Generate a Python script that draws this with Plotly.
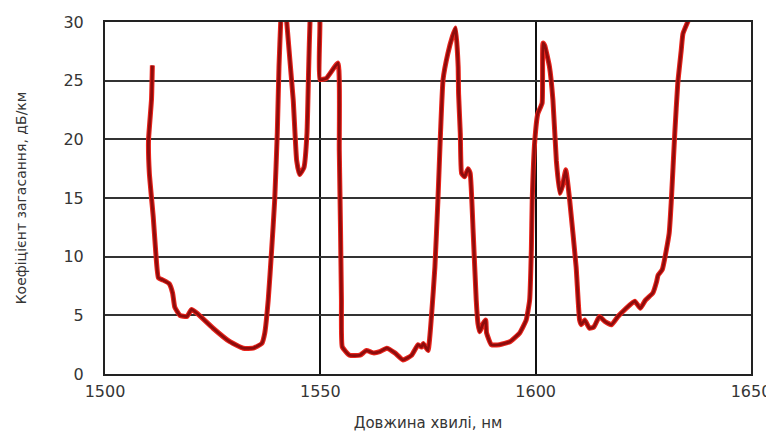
import plotly.graph_objects as go

wavelength_nm = [
    1511.0, 1510.8, 1510.1, 1510.3, 1511.2, 1511.8, 1512.4, 1513.5, 1514.9, 1515.7,
    1516.2, 1517.4, 1519.0, 1520.1, 1521.3, 1525.1, 1529.0, 1532.1, 1534.4, 1536.4,
    1537.1, 1537.9, 1538.7, 1539.4, 1540.0, 1540.4, 1540.8, 1541.5, 1542.2, 1543.7,
    1544.5, 1545.2, 1546.2, 1546.9, 1547.3, 1547.6, 1548.7, 1549.9, 1549.9, 1551.4,
    1554.1, 1554.4, 1554.7, 1554.9, 1555.1, 1556.8, 1559.2, 1560.7, 1562.3, 1563.8,
    1565.4, 1567.3, 1569.2, 1571.2, 1572.7, 1573.5, 1573.9, 1575.0, 1575.8, 1576.6,
    1577.3, 1577.9, 1578.5, 1579.6, 1580.7, 1581.4, 1582.0, 1582.1, 1582.5, 1582.8,
    1583.5, 1584.3, 1584.8, 1585.5, 1586.2, 1586.6, 1587.0, 1587.8, 1588.4, 1588.6,
    1589.7, 1591.6, 1594.0, 1596.3, 1597.8, 1598.6, 1599.0, 1599.2, 1599.8, 1600.5,
    1601.5, 1601.7, 1602.1, 1603.2, 1604.0, 1604.8, 1605.6, 1606.2, 1607.0, 1607.9,
    1609.4, 1610.2, 1610.6, 1611.4, 1612.5, 1613.5, 1614.8, 1616.0, 1617.6, 1619.1,
    1621.0, 1623.0, 1624.3, 1625.5, 1627.2, 1628.1, 1628.4, 1629.4, 1631.0, 1631.5,
    1632.3, 1633.0, 1633.8, 1634.2, 1635.3, 1636.5, 1637.5,
]
attenuation_db_km = [
    26.3, 23.4, 19.9, 17.1, 13.4, 10.3, 8.2, 8.0, 7.7, 6.9,
    5.7, 5.0, 4.9, 5.5, 5.2, 3.9, 2.75, 2.2, 2.2, 2.6,
    3.5, 6.3, 10.6, 14.8, 20.5, 26.2, 30.0, 36.0, 30.0, 23.4,
    18.2, 17.0, 17.6, 20.5, 26.2, 30.0, 36.0, 30.0, 25.1, 25.2,
    26.5, 19.1, 12.0, 6.3, 2.3, 1.6, 1.6, 2.0, 1.8, 1.9,
    2.2, 1.8, 1.2, 1.6, 2.5, 2.3, 2.6, 2.0, 4.9, 9.1,
    14.8, 20.5, 25.1, 27.3, 28.8, 29.5, 26.2, 23.9, 20.5, 17.1,
    16.8, 17.5, 17.1, 12.0, 6.3, 4.3, 3.6, 4.3, 4.6, 3.5,
    2.5, 2.5, 2.75, 3.5, 4.6, 6.3, 10.6, 14.8, 19.9, 22.2,
    23.1, 28.2, 28.0, 26.2, 23.4, 18.2, 15.4, 16.0, 17.4, 14.8,
    9.1, 4.6, 4.2, 4.6, 3.9, 4.0, 4.9, 4.5, 4.2, 4.9,
    5.6, 6.2, 5.6, 6.3, 6.9, 7.9, 8.4, 8.9, 12.0, 14.8,
    20.5, 24.8, 27.6, 29.0, 30.0, 31.0, 32.0,
]
x_ticks = [1500, 1550, 1600, 1650]
y_ticks = [0, 5, 10, 15, 20, 25, 30]

fig = go.Figure()
fig.add_trace(go.Scatter(
    x=wavelength_nm, y=attenuation_db_km, mode="lines",
    line=dict(color="#e8241c", width=5, shape="spline", smoothing=0.4),
    hoverinfo="skip", showlegend=False,
))
fig.add_trace(go.Scatter(
    x=wavelength_nm, y=attenuation_db_km, mode="lines",
    line=dict(color="#8e0c0c", width=2.8, shape="spline", smoothing=0.4),
    showlegend=False,
))

fig.update_layout(
    width=766, height=424,
    margin=dict(l=97, r=23, t=14, b=58),
    paper_bgcolor="white", plot_bgcolor="white",
    font=dict(family="DejaVu Sans, Liberation Sans, sans-serif", color="#353535"),
    xaxis=dict(
        range=[1500, 1650], tickvals=x_ticks, ticktext=[str(v) for v in x_ticks],
        showgrid=True, gridcolor="#111111", gridwidth=1.6,
        showline=True, linecolor="#222222", linewidth=2, mirror=True,
        zeroline=False, ticks="", tickfont=dict(size=16), automargin=False,
        ticklabelstandoff=2,
        title=dict(text="Довжина хвилі, нм", font=dict(size=15), standoff=18),
    ),
    yaxis=dict(
        range=[0, 30], tickvals=y_ticks,
        showgrid=True, gridcolor="#333333", gridwidth=2,
        showline=True, linecolor="#222222", linewidth=2, mirror=True,
        zeroline=False, ticks="", tickfont=dict(size=16), ticklabelstandoff=16,
        automargin=False,
        title=dict(text="Коефіцієнт загасання, дБ/км", font=dict(size=14), standoff=34),
    ),
)

fig.write_html("out.html")
